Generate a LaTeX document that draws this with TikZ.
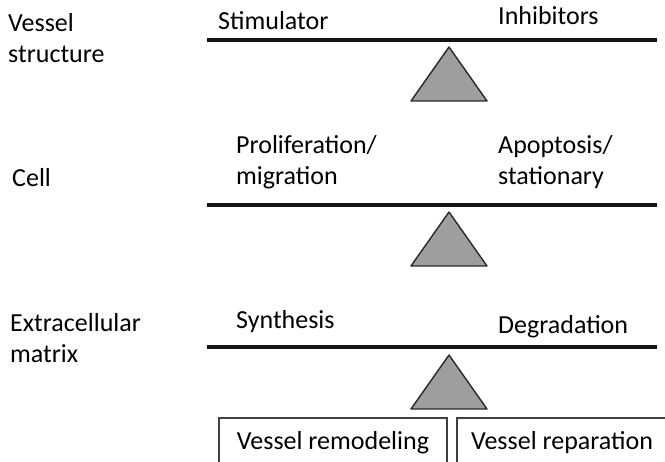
\documentclass[tikz,border=0pt]{standalone}
\usepackage{fontspec}
\setmainfont{Carlito}
\definecolor{trifill}{RGB}{158,158,158}
\definecolor{edge}{RGB}{40,40,40}
\begin{document}
\begin{tikzpicture}[x=1pt,y=-1pt,
  lbl/.style={anchor=base west, inner sep=0pt, font=\fontsize{26}{31}\selectfont, align=left},
  bar/.style={line width=3.5pt, draw=black!92},
  fulcrum/.style={draw=edge, line width=1.4pt, fill=trifill, line join=round},
  outcome/.style={draw=black!75, line width=1.3pt, anchor=base, inner xsep=0pt, inner ysep=13pt,
    text height=19pt, text depth=6pt, font=\fontsize{26}{31}\selectfont}]
\useasboundingbox (0,0) rectangle (665,462);
\clip (0,0) rectangle (665,462);
% row 1 (two-line labels are anchored at the baseline of their last line)
\node[lbl] (vs) at (8,63) {Vessel\\structure};
\node[lbl] (stim) at (218,30) {Stimulator};
\node[lbl] (inh) at (498,25) {Inhibitors};
\coordinate (b1l) at (207,40); \coordinate (b1r) at (657,40);
\draw[bar] (b1l) -- (b1r);
\coordinate (t1) at (449,47);
\draw[fulcrum] (t1) -- ++(38,54) -- ++(-76,0) -- cycle;
% row 2
\node[lbl] (cell) at (12,187) {Cell};
\node[lbl] (prol) at (236,185) {Proliferation/\\migration};
\node[lbl] (apop) at (498,185) {Apoptosis/\\stationary};
\coordinate (b2l) at (207,205); \coordinate (b2r) at (657,205);
\draw[bar] (b2l) -- (b2r);
\coordinate (t2) at (449,212);
\draw[fulcrum] (t2) -- ++(38,54) -- ++(-76,0) -- cycle;
% row 3
\node[lbl] (ecm) at (10,363) {Extracellular\\matrix};
\node[lbl] (syn) at (236,329) {Synthesis};
\node[lbl] (deg) at (498,334) {Degradation};
\coordinate (b3l) at (207,347); \coordinate (b3r) at (657,347);
\draw[bar] (b3l) -- (b3r);
\coordinate (t3) at (449,355);
\draw[fulcrum] (t3) -- ++(38,54) -- ++(-76,0) -- cycle;
% outcomes
\node[outcome, minimum width=228pt] (rem) at (333,450) {Vessel remodeling};
\node[outcome, minimum width=210pt] (rep) at (562,450) {Vessel reparation};
\end{tikzpicture}
\end{document}
